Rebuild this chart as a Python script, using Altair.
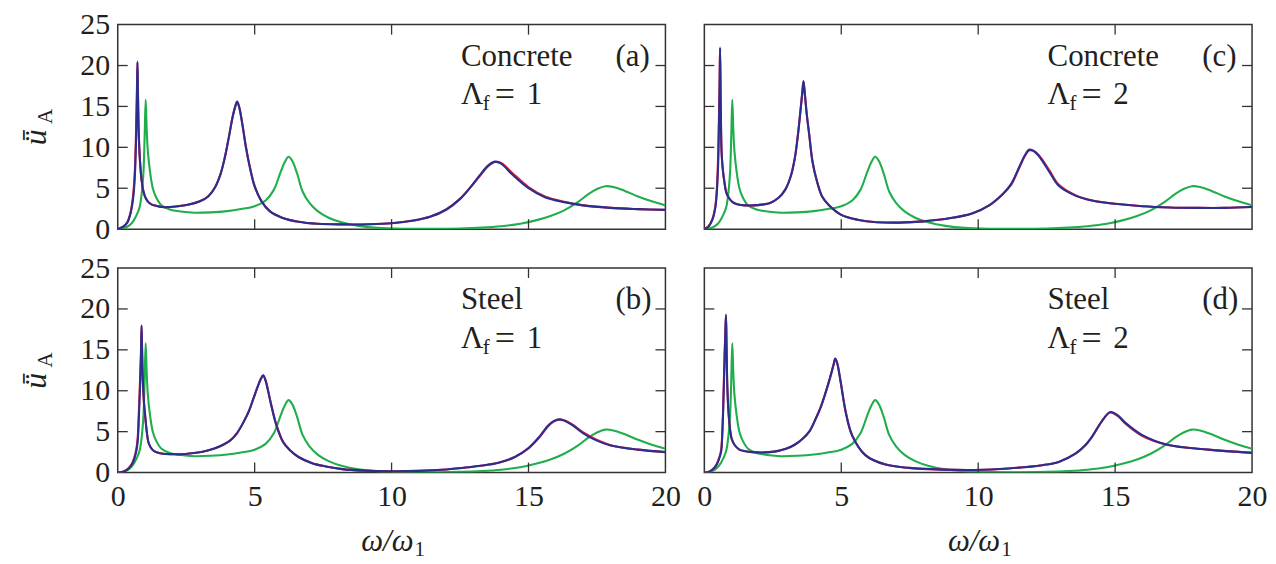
import altair as alt
import pandas as pd

# ---------------- data ----------------
X_TICK_LABELS = [0, 5, 10, 15, 20]
Y_TICK_LABELS = [0, 5, 10, 15, 20, 25]
X_INNER_TICKS = [5, 10, 15]
Y_INNER_TICKS = [5, 10, 15, 20]

# green curve (identical in all four panels)
GREEN_X = [0, 0.2, 0.4, 0.55, 0.7, 0.8, 0.88, 0.94, 0.98, 1.02, 1.06, 1.1, 1.18, 1.28, 1.4,
           1.6, 1.9, 2.3, 2.8, 3.4, 4.0, 4.5, 5.0, 5.4, 5.7, 5.95, 6.1, 6.24, 6.38, 6.55,
           6.75, 7.0, 7.3, 7.7, 8.2, 8.8, 9.5, 10.5, 11.5, 12.5, 13.3, 14.0, 14.7, 15.3, 15.8,
           16.3, 16.8, 17.2, 17.5, 17.8, 18.1, 18.5, 19.0, 19.5, 20.0]
GREEN_Y = [0, 0.1, 0.4, 0.9, 1.8, 2.7, 4.5, 7.0, 11.0, 15.8, 12.0, 9.5, 7.0, 5.0, 3.9,
           2.9, 2.4, 2.15, 2.0, 2.05, 2.2, 2.45, 2.8, 3.5, 4.8, 7.0, 8.2, 8.85, 8.3, 6.8,
           4.6, 3.2, 2.2, 1.4, 0.8, 0.4, 0.15, 0.05, 0.04, 0.08, 0.18, 0.35, 0.65, 1.1, 1.6,
           2.3, 3.3, 4.3, 4.9, 5.25, 5.15, 4.7, 4.0, 3.4, 2.9]

# panel (a) Concrete, Lambda_f = 1
BA_X = [0, 0.2, 0.35, 0.45, 0.52, 0.58, 0.63, 0.67, 0.7, 0.72, 0.74, 0.77, 0.81, 0.87, 0.94,
        1.02, 1.12, 1.25, 1.4, 1.6, 1.9, 2.2, 2.6, 3.0, 3.3, 3.55, 3.75, 3.9, 4.05, 4.2,
        4.3, 4.36, 4.44, 4.55, 4.68, 4.82, 5.0, 5.25, 5.55, 6.0, 6.6, 7.3, 8.2, 9.2, 10.0,
        10.8, 11.4, 12.0, 12.5, 12.9, 13.2, 13.5, 13.77, 14.0, 14.4, 15.0, 15.6, 16.3, 17.0, 18.0,
        19.0, 20.0]
BA_Y = [0, 0.3, 0.8, 1.7, 2.8, 4.3, 6.8, 11.0, 16.0, 20.5, 16.5, 11.5, 8.5, 6.0, 4.6,
        3.8, 3.3, 3.0, 2.85, 2.7, 2.7, 2.8, 3.0, 3.4, 4.0, 5.1, 6.7, 8.6, 11.1, 13.8,
        15.1, 15.6, 14.8, 12.8, 10.0, 7.6, 5.2, 3.4, 2.2, 1.4, 0.9, 0.65, 0.58, 0.6, 0.72,
        1.05, 1.5, 2.4, 3.7, 5.2, 6.5, 7.7, 8.25, 8.0, 6.7, 5.0, 3.9, 3.3, 2.9, 2.6,
        2.45, 2.35]
RA_Y = [0, 0.3, 0.85, 1.8, 3.0, 4.8, 7.6, 12.2, 17.0, 20.3, 16.0, 11.3, 8.4, 6.0, 4.6,
        3.8, 3.3, 3.0, 2.85, 2.7, 2.7, 2.8, 3.0, 3.4, 4.0, 5.1, 6.7, 8.6, 11.1, 13.8,
        15.1, 15.6, 14.9, 12.9, 10.1, 7.7, 5.3, 3.4, 2.2, 1.4, 0.9, 0.65, 0.58, 0.6, 0.72,
        1.05, 1.5, 2.4, 3.7, 5.2, 6.4, 7.6, 8.2, 8.1, 6.9, 5.15, 4.0, 3.35, 2.9, 2.6,
        2.45, 2.35]

# panel (c) Concrete, Lambda_f = 2
BC_X = [0, 0.15, 0.3, 0.4, 0.45, 0.5, 0.53, 0.56, 0.575, 0.6, 0.63, 0.67, 0.73, 0.8, 0.9,
        1.03, 1.2, 1.5, 1.8, 2.1, 2.4, 2.7, 2.95, 3.15, 3.3, 3.42, 3.52, 3.58, 3.62, 3.67,
        3.74, 3.83, 3.95, 4.1, 4.3, 4.56, 5.0, 5.6, 6.3, 7.1, 8.0, 9.0, 9.8, 10.4, 10.9,
        11.2, 11.5, 11.7, 11.85, 12.0, 12.2, 12.6, 12.94, 13.55, 14.16, 15.0, 16.0, 17.0, 18.0, 19.0,
        20.0]
BC_Y = [0, 0.3, 1.2, 2.6, 4.2, 7.5, 12.0, 18.0, 22.2, 15.0, 9.5, 7.5, 5.8, 4.5, 3.8,
        3.3, 3.05, 2.9, 2.9, 3.0, 3.2, 3.8, 4.8, 6.4, 8.6, 11.6, 14.8, 16.8, 18.1, 16.5,
        14.0, 11.5, 8.2, 6.0, 4.0, 2.9, 1.75, 1.15, 0.85, 0.8, 0.95, 1.35, 1.95, 2.9, 4.3,
        5.5, 7.6, 9.0, 9.7, 9.6, 9.0, 7.0, 5.3, 4.1, 3.5, 3.1, 2.8, 2.65, 2.6, 2.6,
        2.7]
RC_Y = [0, 0.35, 1.3, 2.8, 4.6, 8.5, 13.2, 19.0, 22.0, 14.5, 9.3, 7.4, 5.8, 4.5, 3.8,
        3.3, 3.05, 2.9, 2.9, 3.0, 3.2, 3.8, 4.8, 6.4, 8.6, 11.6, 14.8, 16.8, 18.0, 16.6,
        14.1, 11.6, 8.3, 6.0, 4.0, 2.9, 1.75, 1.15, 0.85, 0.8, 0.95, 1.35, 1.95, 2.9, 4.3,
        5.4, 7.5, 8.9, 9.6, 9.6, 9.1, 7.2, 5.45, 4.15, 3.5, 3.1, 2.8, 2.65, 2.6, 2.6,
        2.7]

# panel (b) Steel, Lambda_f = 1
BB_X = [0, 0.2, 0.4, 0.55, 0.65, 0.72, 0.78, 0.82, 0.85, 0.87, 0.89, 0.92, 0.96, 1.0, 1.06,
        1.12, 1.2, 1.3, 1.45, 1.66, 2.0, 2.3, 2.7, 3.1, 3.5, 3.85, 4.1, 4.35, 4.6, 4.8,
        4.95, 5.1, 5.22, 5.31, 5.4, 5.5, 5.62, 5.79, 6.04, 6.3, 6.6, 7.1, 7.6, 8.2, 9.0,
        10.0, 11.0, 12.0, 12.8, 13.5, 14.0, 14.5, 15.0, 15.4, 15.7, 15.9, 16.1, 16.3, 16.6, 17.0,
        17.5, 18.0, 19.0, 20.0]
BB_Y = [0, 0.1, 0.5, 1.2, 2.2, 3.5, 7.5, 11.0, 14.5, 18.0, 15.0, 11.0, 8.5, 7.0, 5.0,
        3.7, 3.1, 2.7, 2.45, 2.3, 2.25, 2.23, 2.35, 2.55, 2.9, 3.4, 3.9, 4.8, 6.2, 7.6,
        9.0, 10.4, 11.4, 11.9, 11.2, 9.8, 8.0, 5.8, 3.7, 2.7, 1.9, 1.15, 0.75, 0.42, 0.24,
        0.16, 0.2, 0.38, 0.65, 0.95, 1.3, 1.9, 3.0, 4.4, 5.7, 6.25, 6.5, 6.35, 5.8, 4.8,
        3.9, 3.3, 2.8, 2.5]
RB_Y = [0, 0.1, 0.55, 1.3, 2.4, 3.9, 8.2, 11.8, 15.0, 17.8, 14.6, 10.8, 8.4, 7.0, 5.0,
        3.7, 3.1, 2.7, 2.45, 2.3, 2.25, 2.23, 2.35, 2.55, 2.9, 3.4, 3.9, 4.8, 6.2, 7.6,
        9.0, 10.4, 11.4, 11.85, 11.3, 9.9, 8.1, 5.9, 3.75, 2.7, 1.9, 1.15, 0.75, 0.42, 0.24,
        0.16, 0.2, 0.38, 0.65, 0.95, 1.3, 1.9, 2.95, 4.3, 5.6, 6.2, 6.45, 6.4, 5.9, 4.9,
        4.0, 3.35, 2.8, 2.5]

# panel (d) Steel, Lambda_f = 2
BD_X = [0, 0.2, 0.4, 0.52, 0.61, 0.66, 0.7, 0.74, 0.77, 0.79, 0.81, 0.84, 0.89, 0.95, 1.0,
        1.1, 1.28, 1.5, 1.76, 2.1, 2.37, 2.7, 2.98, 3.3, 3.58, 3.85, 4.07, 4.25, 4.43, 4.6,
        4.72, 4.78, 4.85, 4.98, 5.16, 5.4, 5.89, 6.62, 7.47, 8.69, 9.9, 11.1, 12.33, 12.94, 13.55,
        13.9, 14.16, 14.5, 14.82, 15.1, 15.37, 15.98, 16.9, 18.4, 20.0]
BD_Y = [0, 0.15, 0.7, 1.5, 2.5, 5.0, 9.0, 14.0, 17.5, 19.3, 16.0, 10.5, 7.0, 5.0, 4.1,
        3.4, 2.8, 2.6, 2.5, 2.45, 2.5, 2.65, 2.9, 3.4, 4.1, 5.1, 6.6, 8.0, 9.8, 11.7,
        13.2, 13.95, 13.4, 11.0, 7.4, 4.5, 2.1, 0.97, 0.57, 0.36, 0.32, 0.5, 0.9, 1.3, 2.3,
        3.3, 4.4, 6.2, 7.4, 7.0, 6.1, 4.6, 3.4, 2.8, 2.4]
RD_Y = [0, 0.15, 0.75, 1.6, 2.7, 5.4, 9.6, 14.5, 17.6, 19.1, 15.6, 10.3, 7.0, 5.0, 4.1,
        3.4, 2.8, 2.6, 2.5, 2.45, 2.5, 2.65, 2.9, 3.4, 4.1, 5.1, 6.6, 8.0, 9.8, 11.7,
        13.2, 13.9, 13.4, 11.1, 7.5, 4.55, 2.1, 0.97, 0.57, 0.36, 0.32, 0.5, 0.9, 1.3, 2.3,
        3.3, 4.4, 6.2, 7.35, 6.9, 6.0, 4.5, 3.4, 2.8, 2.4]

MATERIALS = ["Concrete", "Concrete", "Steel", "Steel"]
LAMBDAS = ["1", "2", "1", "2"]
LETTERS = ["(a)", "(c)", "(b)", "(d)"]
BLUE_XS = [BA_X, BC_X, BB_X, BD_X]
BLUE_YS = [BA_Y, BC_Y, BB_Y, BD_Y]
RED_YS = [RA_Y, RC_Y, RB_Y, RD_Y]

Y_TITLE_MAIN = "ǖ"
Y_TITLE_SUB = "A"
X_TITLE_MAIN = "ω/ω"
X_TITLE_SUB = "1"

# ---------------- styling ----------------
SERIF = "'Liberation Serif', 'Times New Roman', Times, 'DejaVu Serif', serif"
TXT = "#231f20"
FRAME = "#333333"
GREEN = "#1fae4b"
RED = "#e8203a"
BLUE = "#2b2e8f"
W, H = 549, 205
LW = 2.1

xs = alt.Scale(domain=[0, 20], nice=False, zero=False)
ys = alt.Scale(domain=[0, 25], nice=False, zero=False)


def make_panel(i, show_x, show_y):
    if show_x:
        xaxis = alt.Axis(values=X_TICK_LABELS, ticks=False, domain=False, grid=False,
                         labelFont=SERIF, labelFontSize=30, labelColor=TXT, labelPadding=9,
                         labelFlush=False, labelOverlap=False, format="d", title=None)
    else:
        xaxis = None
    if show_y:
        yaxis = alt.Axis(values=Y_TICK_LABELS, ticks=False, domain=False, grid=False,
                         labelFont=SERIF, labelFontSize=30, labelColor=TXT, labelPadding=8,
                         labelFlush=False, labelOverlap=False, format="d", title=None)
    else:
        yaxis = None

    def line(xv, yv, color):
        df = pd.DataFrame({"x": xv, "y": yv})
        return alt.Chart(df).mark_line(color=color, strokeWidth=LW, interpolate="catmull-rom",
                                       clip=True).encode(
            x=alt.X("x:Q", scale=xs, axis=xaxis),
            y=alt.Y("y:Q", scale=ys, axis=yaxis))

    layers = [
        line(GREEN_X, GREEN_Y, GREEN),
        line(BLUE_XS[i], RED_YS[i], RED),
        line(BLUE_XS[i], BLUE_YS[i], BLUE),
    ]

    xt = pd.DataFrame({"t": X_INNER_TICKS})
    yt = pd.DataFrame({"t": Y_INNER_TICKS})
    tick_style = dict(color=FRAME, strokeWidth=1.3)
    layers += [
        alt.Chart(xt).mark_rule(**tick_style).encode(
            x=alt.X("t:Q", scale=xs, axis=xaxis), y=alt.value(H), y2=alt.value(H - 10)),
        alt.Chart(xt).mark_rule(**tick_style).encode(
            x=alt.X("t:Q", scale=xs, axis=xaxis), y=alt.value(0), y2=alt.value(10)),
        alt.Chart(yt).mark_rule(**tick_style).encode(
            y=alt.Y("t:Q", scale=ys, axis=yaxis), x=alt.value(0), x2=alt.value(10)),
        alt.Chart(yt).mark_rule(**tick_style).encode(
            y=alt.Y("t:Q", scale=ys, axis=yaxis), x=alt.value(W - 10), x2=alt.value(W)),
    ]

    ann = pd.DataFrame({"mat": [MATERIALS[i]], "lam": [LAMBDAS[i]], "let": [LETTERS[i]],
                        "L": ["Λ"], "f": ["f"], "eq": ["="]})
    base_txt = dict(font=SERIF, color=TXT, align="left", baseline="alphabetic")
    layers += [
        alt.Chart(ann).mark_text(fontSize=31, **base_txt).encode(
            text="mat:N", x=alt.value(344), y=alt.value(41)),
        alt.Chart(ann).mark_text(fontSize=31, **base_txt).encode(
            text="let:N", x=alt.value(499), y=alt.value(41)),
        alt.Chart(ann).mark_text(fontSize=31, **base_txt).encode(
            text="L:N", x=alt.value(344), y=alt.value(80)),
        alt.Chart(ann).mark_text(fontSize=21, **base_txt).encode(
            text="f:N", x=alt.value(366), y=alt.value(86)),
        alt.Chart(ann).mark_text(fontSize=36, **base_txt).encode(
            text="eq:N", x=alt.value(378), y=alt.value(82)),
        alt.Chart(ann).mark_text(fontSize=31, **base_txt).encode(
            text="lam:N", x=alt.value(410), y=alt.value(80)),
    ]

    if show_y:
        yt_df = pd.DataFrame({"m": [Y_TITLE_MAIN], "s": [Y_TITLE_SUB]})
        layers += [
            alt.Chart(yt_df).mark_text(font=SERIF, fontSize=32, fontStyle="italic", color=TXT,
                                       angle=270, align="center", baseline="alphabetic").encode(
                text="m:N", x=alt.value(-72), y=alt.value(113)),
            alt.Chart(yt_df).mark_text(font=SERIF, fontSize=21, color=TXT,
                                       angle=270, align="center", baseline="alphabetic").encode(
                text="s:N", x=alt.value(-66), y=alt.value(92)),
        ]

    if show_x:
        xt_df = pd.DataFrame({"m": [X_TITLE_MAIN], "s": [X_TITLE_SUB]})
        layers += [
            alt.Chart(xt_df).mark_text(font=SERIF, fontSize=31, fontStyle="italic", color=TXT,
                                       align="right", baseline="alphabetic").encode(
                text="m:N", x=alt.value(W / 2 + 22), y=alt.value(H + 79)),
            alt.Chart(xt_df).mark_text(font=SERIF, fontSize=21, color=TXT,
                                       align="left", baseline="alphabetic").encode(
                text="s:N", x=alt.value(W / 2 + 23), y=alt.value(H + 84)),
        ]

    return alt.layer(*layers).properties(width=W, height=H)


panels = [
    make_panel(0, False, True),
    make_panel(1, False, False),
    make_panel(2, True, True),
    make_panel(3, True, False),
]

chart = alt.concat(*panels, columns=2, spacing=39, bounds="flush").properties(
    padding={"left": 11, "top": 0, "right": 0, "bottom": 0}
).configure_view(stroke=FRAME, strokeWidth=1.5)

chart.save("out.html", embed_options={"renderer": "svg", "actions": False})
